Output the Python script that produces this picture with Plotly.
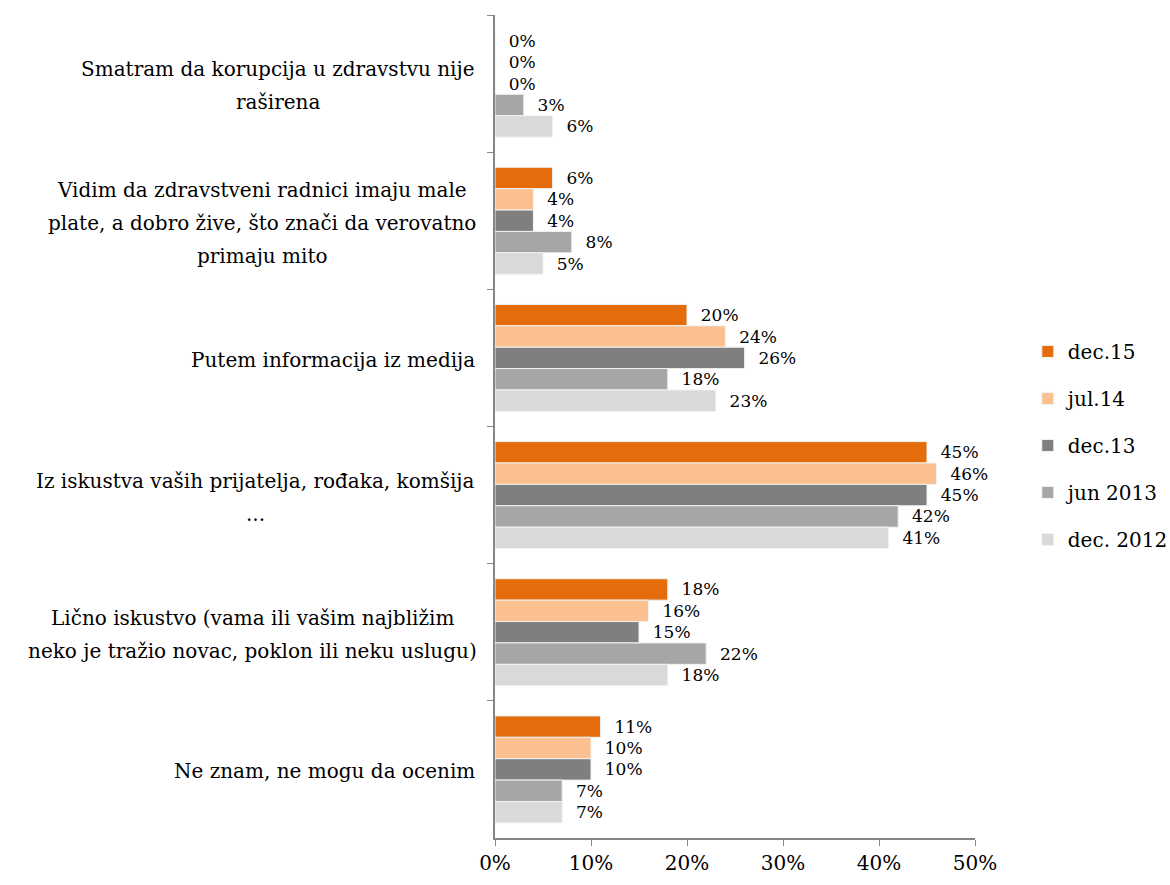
import plotly.graph_objects as go

categories = [
    "Smatram da korupcija u zdravstvu nije<br>raširena",
    "Vidim da zdravstveni radnici imaju male<br>plate, a dobro žive, što znači da verovatno<br>primaju mito",
    "Putem informacija iz medija",
    "Iz iskustva vaših prijatelja, rođaka, komšija<br>...",
    "Lično iskustvo (vama ili vašim najbližim<br>neko je tražio novac, poklon ili neku uslugu)",
    "Ne znam, ne mogu da ocenim",
]
series_names = ["dec.15", "jul.14", "dec.13", "jun 2013", "dec. 2012"]
dec15 = [0, 6, 20, 45, 18, 11]
jul14 = [0, 4, 24, 46, 16, 10]
dec13 = [0, 4, 26, 45, 15, 10]
jun2013 = [3, 8, 18, 42, 22, 7]
dec2012 = [6, 5, 23, 41, 18, 7]
series_values = [dec15, jul14, dec13, jun2013, dec2012]
colors = ["#E46C0A", "#FAC090", "#7F7F7F", "#A6A6A6", "#D9D9D9"]
x_ticks = [0, 10, 20, 30, 40, 50]
x_ticklabels = ["0%", "10%", "20%", "30%", "40%", "50%"]

FONT = "DejaVu Serif"
LINE_GAP = 33
LABEL_PAD = 18
# approximate rendered pixel width of the widest line of each label block (layout only)
block_widths = [398, 430, 0, 443, 450, 0]

fig = go.Figure()
for i, (name, vals, col) in enumerate(zip(series_names, series_values, colors)):
    fig.add_trace(go.Bar(
        y=categories, x=vals, name=name, orientation="h",
        marker=dict(color=col, line=dict(color="#F2F2F2", width=1)),
        text=[f"  {v}%" for v in vals], textposition="outside",
        textfont=dict(family=FONT, size=17, color="#000"),
        constraintext="none", cliponaxis=False,
        legendgroup=f"g{i}",
    ))

for c, w in zip(categories, block_widths):
    lines = c.split("<br>")
    n = len(lines)
    for j, line in enumerate(lines):
        if n == 1:
            xs, xa = -LABEL_PAD, "right"
        else:
            xs, xa = -LABEL_PAD - w / 2, "center"
        fig.add_annotation(
            x=0, xref="paper", xshift=xs, y=c, yref="y",
            yshift=((n - 1) / 2 - j) * LINE_GAP - 2,
            text=line, showarrow=False, xanchor=xa, align="center",
            font=dict(family=FONT, size=20, color="#000"),
        )

fig.update_layout(
    width=1170, height=885,
    margin=dict(l=495, r=195, t=15, b=47, autoexpand=False),
    paper_bgcolor="white", plot_bgcolor="white",
    barmode="group", bargap=0.22, bargroupgap=0,
    font=dict(family=FONT, color="#000"),
    showlegend=True,
    legend=dict(x=1.110, y=0.477, yanchor="middle", xanchor="left",
                font=dict(family=FONT, size=20, color="#000"),
                tracegroupgap=18, itemwidth=30, traceorder="grouped"),
    xaxis=dict(range=[0, 50], tickvals=x_ticks, ticktext=x_ticklabels,
               showgrid=False, zeroline=False, showline=True,
               linecolor="#868686", linewidth=1.5, ticks="outside", ticklen=6,
               tickcolor="#868686", tickfont=dict(family=FONT, size=20, color="#000")),
    yaxis=dict(autorange="reversed", showticklabels=False, showgrid=False,
               showline=True, linecolor="#868686", linewidth=1.5,
               ticks="outside", ticklen=6, tickcolor="#868686",
               tickson="boundaries"),
)

fig.write_html("out.html", config={"displayModeBar": False},
               post_script="document.body.style.margin='0';")
